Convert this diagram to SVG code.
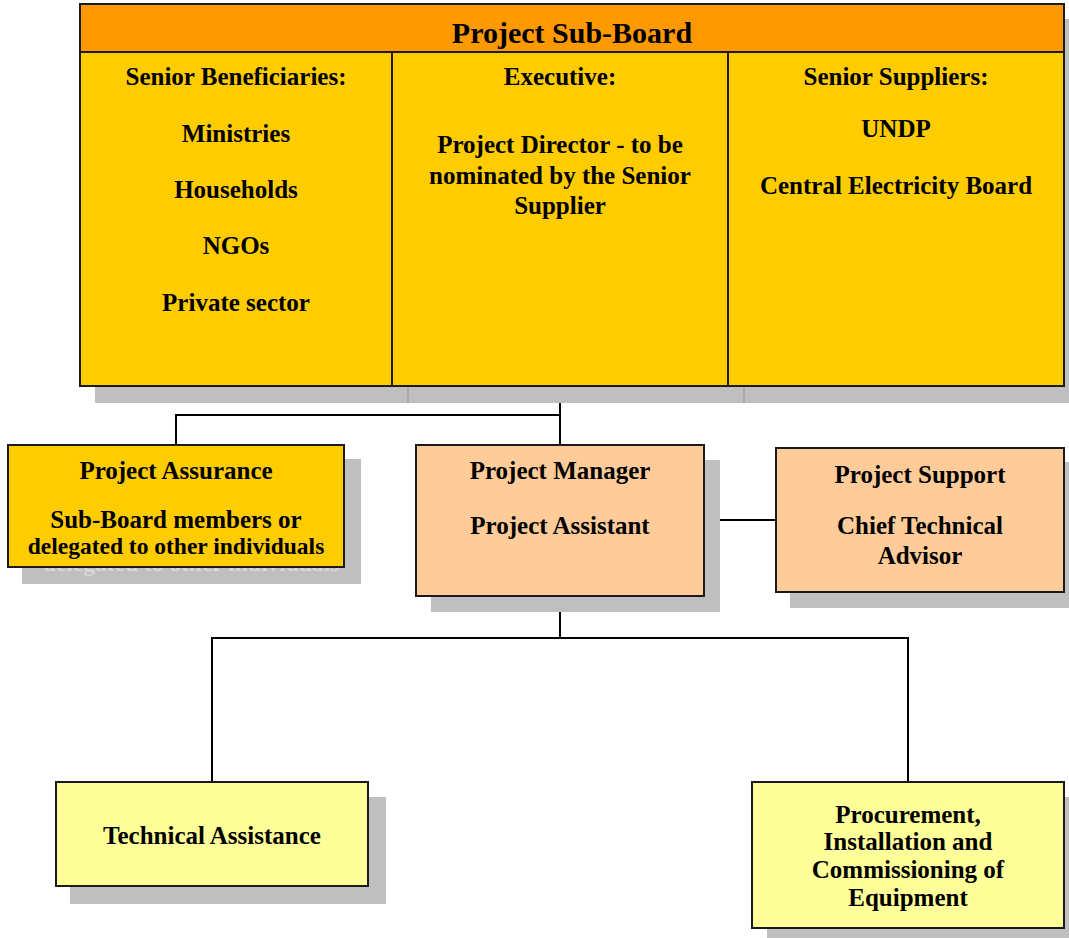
<svg xmlns="http://www.w3.org/2000/svg" width="1069" height="938" viewBox="0 0 1069 938">
<style>
.sh{fill:#bfbfbf}
.box{stroke:#1a1a1a;stroke-width:2}
.t{font-family:"Liberation Serif","DejaVu Serif",serif;font-weight:bold;font-size:25px;fill:#000;text-anchor:middle}
.ln{stroke:#000;stroke-width:2;fill:none}
</style>
<rect width="1069" height="938" fill="#fff"/>
<g id="connectors">
<path class="ln" d="M560 386V445M560 415H176V445M704 520H776M560 596V638H212V782M560 638H908V782"/>
</g>
<g id="sub-board">
<rect class="sh" x="95" y="19" width="984" height="384"/>
<line x1="408" y1="386" x2="408" y2="403" stroke="#a8a8a8" stroke-width="2"/>
<line x1="744" y1="386" x2="744" y2="403" stroke="#a8a8a8" stroke-width="2"/>
<rect class="box" x="80" y="52" width="984" height="334" fill="#ffcc00"/>
<rect class="box" x="80" y="4" width="984" height="48" fill="#ff9900"/>
<line class="box" x1="392" y1="52" x2="392" y2="386"/>
<line class="box" x1="728" y1="52" x2="728" y2="386"/>
<text class="t" x="572" y="43" style="font-size:30px">Project Sub-Board</text>
<text class="t" x="236" y="85">Senior Beneficiaries:</text>
<text class="t" x="236" y="142">Ministries</text>
<text class="t" x="236" y="198">Households</text>
<text class="t" x="236" y="254">NGOs</text>
<text class="t" x="236" y="311">Private sector</text>
<text class="t" x="560" y="85">Executive:</text>
<text class="t" x="560" y="153">Project Director - to be</text>
<text class="t" x="560" y="184">nominated by the Senior</text>
<text class="t" x="560" y="214">Supplier</text>
<text class="t" x="896" y="85">Senior Suppliers:</text>
<text class="t" x="896" y="137">UNDP</text>
<text class="t" x="896" y="194">Central Electricity Board</text>
</g>
<g id="project-assurance">
<rect class="sh" x="22" y="459" width="339" height="125"/>
<text class="t" x="191" y="571" style="fill:#d9d9d9;font-size:23.5px">delegated to other individuals</text>
<rect class="box" x="8" y="445" width="336" height="122" fill="#ffcc00"/>
<text class="t" x="176" y="479">Project Assurance</text>
<text class="t" x="176" y="528">Sub-Board members or</text>
<text class="t" x="176" y="554" style="font-size:23.5px">delegated to other individuals</text>
</g>
<g id="project-manager">
<rect class="sh" x="431" y="460" width="289" height="152"/>
<rect class="box" x="416" y="445" width="288" height="151" fill="#ffcc99"/>
<text class="t" x="560" y="479">Project Manager</text>
<text class="t" x="560" y="534">Project Assistant</text>
</g>
<g id="project-support">
<rect class="sh" x="790" y="462" width="279" height="146"/>
<rect class="box" x="776" y="448" width="288" height="144" fill="#ffcc99"/>
<text class="t" x="920" y="483">Project Support</text>
<text class="t" x="920" y="534">Chief Technical</text>
<text class="t" x="920" y="564">Advisor</text>
</g>
<g id="technical-assistance">
<rect class="sh" x="70" y="797" width="316" height="107"/>
<rect class="box" x="56" y="782" width="312" height="104" fill="#ffff99"/>
<text class="t" x="212" y="844">Technical Assistance</text>
</g>
<g id="procurement">
<rect class="sh" x="767" y="797" width="302" height="141"/>
<rect class="box" x="752" y="782" width="312" height="146" fill="#ffff99"/>
<text class="t" x="908" y="823">Procurement,</text>
<text class="t" x="908" y="850">Installation and</text>
<text class="t" x="908" y="878">Commissioning of</text>
<text class="t" x="908" y="906">Equipment</text>
</g>
</svg>
